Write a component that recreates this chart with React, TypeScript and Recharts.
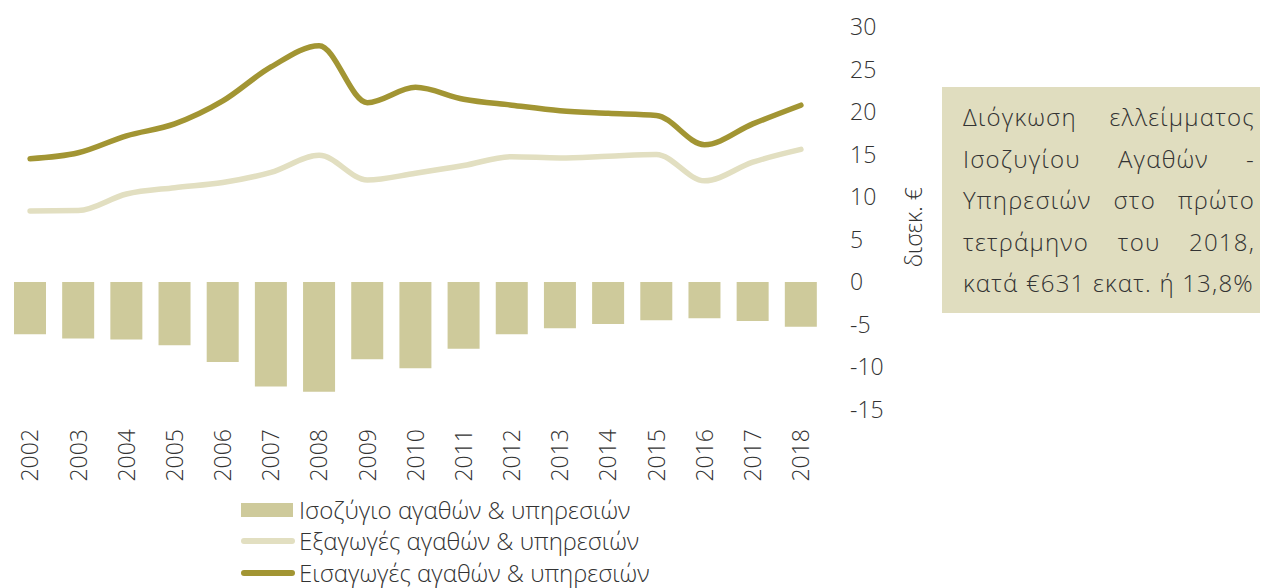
import React from 'react';
import { ComposedChart, Bar, Line, XAxis, YAxis } from 'recharts';

const years = ['2002','2003','2004','2005','2006','2007','2008','2009','2010','2011','2012','2013','2014','2015','2016','2017','2018'];
const balance = [-6.15,-6.65,-6.75,-7.45,-9.4,-12.3,-12.9,-9.1,-10.15,-7.85,-6.15,-5.45,-4.95,-4.5,-4.25,-4.6,-5.25];
const exportsV = [8.35,8.4,10.35,11.1,11.7,12.9,14.9,12.0,12.8,13.7,14.75,14.6,14.8,15.0,11.9,14.1,15.6];
const importsV = [14.5,15.2,17.2,18.6,21.3,25.3,27.8,21.1,22.9,21.5,20.8,20.15,19.85,19.6,16.15,18.6,20.8];
const yTicks = [30,25,20,15,10,5,0,-5,-10,-15];

const seriesNames = {
  balance: 'Ισοζύγιο αγαθών & υπηρεσιών',
  exp: 'Εξαγωγές αγαθών & υπηρεσιών',
  imp: 'Εισαγωγές αγαθών & υπηρεσιών',
};
const axisLabel = 'δισεκ. €';
const noteLines = ['Διόγκωση ελλείμματος', 'Ισοζυγίου Αγαθών -', 'Υπηρεσιών στο πρώτο', 'τετράμηνο του 2018,', 'κατά €631 εκατ. ή 13,8%'];

const C_BAR = '#CECA9B';
const C_EXP = '#E2DFC1';
const C_IMP = '#A29533';
const TXT = '#333333';
const FONT = '"Open Sans", sans-serif';

const data = years.map((y, i) => ({ year: y, balance: balance[i], exp: exportsV[i], imp: importsV[i] }));

const XTick = (props: any) => {
  const { x, y, payload } = props;
  return (
    <text x={x} y={y} dy="0.36em" transform={`rotate(-90, ${x}, ${y})`} textAnchor="end"
      fill={TXT} fontSize={23} fontFamily={FONT} fontWeight={300}>{payload.value}</text>
  );
};

const YLabel = (props: any) => {
  const vb = props.viewBox;
  const x = vb.x + 88;
  const y = vb.y + vb.height / 2 + 9;
  return (
    <text x={x} y={y} transform={`rotate(-90, ${x}, ${y})`} textAnchor="middle" dominantBaseline="central"
      fill={TXT} fontSize={23} fontFamily={FONT} fontWeight={300}>{axisLabel}</text>
  );
};

const legendRows = [
  { name: seriesNames.balance, type: 'bar', color: C_BAR },
  { name: seriesNames.exp, type: 'line', color: C_EXP },
  { name: seriesNames.imp, type: 'line', color: C_IMP },
];

export default function App() {
  return (
    <div style={{ position: 'absolute', left: 0, top: 0, width: 1264, height: 588, background: '#fff', overflow: 'hidden' }}>
      <ComposedChart width={940} height={588} data={data} margin={{ top: 27, right: 0, bottom: 0, left: 6 }}>
        <XAxis dataKey="year" height={178.5} axisLine={false} tickLine={false} tickSize={0} tickMargin={19.5}
          tick={<XTick />} interval={0} />
        <YAxis orientation="right" domain={[-15, 30]} ticks={yTicks} width={115} axisLine={false} tickLine={false}
          tickSize={0} tickMargin={25} interval={0}
          tick={{ fill: TXT, fontSize: 23, fontFamily: FONT, fontWeight: 300, textAnchor: 'start' }}
          label={<YLabel />} />
        <Bar dataKey="balance" name={seriesNames.balance} fill={C_BAR} barSize={32} isAnimationActive={false} />
        <Line dataKey="exp" name={seriesNames.exp} type="monotone" stroke={C_EXP} strokeWidth={5.5}
          strokeLinecap="round" dot={false} activeDot={false} isAnimationActive={false} />
        <Line dataKey="imp" name={seriesNames.imp} type="monotone" stroke={C_IMP} strokeWidth={5.5}
          strokeLinecap="round" dot={false} activeDot={false} isAnimationActive={false} />
      </ComposedChart>
      <div style={{ position: 'absolute', left: 241, top: 494, fontFamily: FONT, fontWeight: 300, fontSize: 24, color: TXT }}>
        {legendRows.map((r) => (
          <div key={r.name} style={{ display: 'flex', alignItems: 'center', height: 31.5 }}>
            <div style={{ width: 54, display: 'flex', alignItems: 'center' }}>
              {r.type === 'bar' ? (
                <div style={{ width: 52, height: 14, background: r.color }} />
              ) : (
                <div style={{ width: 54, height: 6, borderRadius: 3, background: r.color }} />
              )}
            </div>
            <span style={{ marginLeft: 4, whiteSpace: 'nowrap', lineHeight: '28px' }}>{r.name}</span>
          </div>
        ))}
      </div>
      <div style={{ position: 'absolute', left: 942, top: 87, width: 318, height: 226, background: '#E0DDBF',
        boxSizing: 'border-box', padding: '9px 5px 0 21px', fontFamily: FONT, fontWeight: 300, fontSize: 24,
        letterSpacing: '1.2px', color: TXT, lineHeight: '41.5px' }}>
        {noteLines.map((l, i) => (
          <div key={i} style={{ whiteSpace: 'nowrap', textAlign: i < noteLines.length - 1 ? 'justify' : 'left',
            textAlignLast: i < noteLines.length - 1 ? 'justify' : 'left' } as any}>{l}</div>
        ))}
      </div>
    </div>
  );
}
